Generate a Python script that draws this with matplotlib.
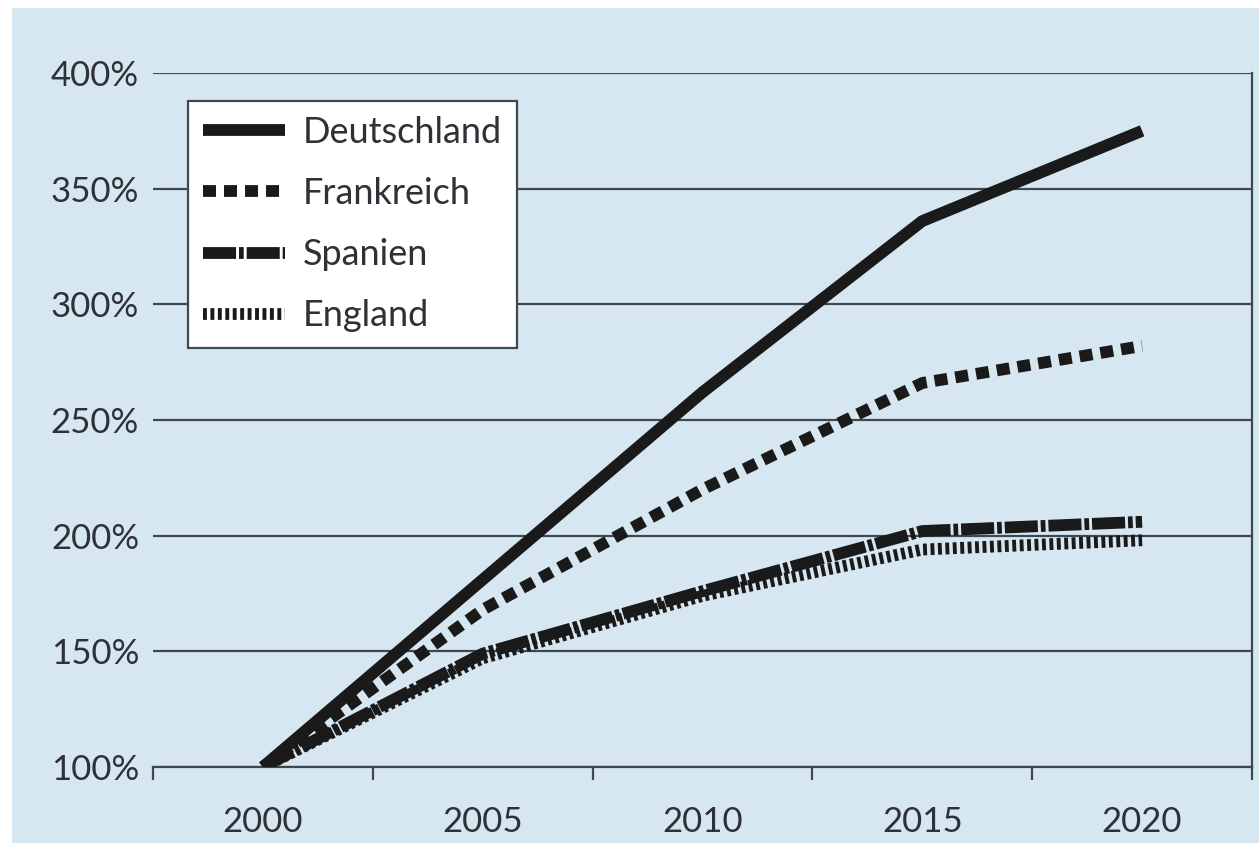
import matplotlib
matplotlib.use("Agg")
import matplotlib.pyplot as plt
from matplotlib.patches import Rectangle
from matplotlib.ticker import FixedLocator, FuncFormatter

years = ["2000", "2005", "2010", "2015", "2020"]
deutschland = [100, 181, 262, 336, 375]
frankreich = [100, 168, 220, 266, 282]
spanien = [100, 149, 176, 202, 206]
england = [100, 147, 174, 194, 198]
y_ticks = [100, 150, 200, 250, 300, 350, 400]

BG = "#d7e7f2"
INK = "#1a1a1a"
GRID = "#3d4850"
TEXT = "#2e3236"

plt.rcParams['font.family'] = ['Lato', 'DejaVu Sans']

fig = plt.figure(figsize=(12.59, 8.43), dpi=100)
fig.patch.set_facecolor("white")
fig.patches.append(Rectangle((12 / 1259, 0), 1, 1 - 8 / 843, transform=fig.transFigure,
                             facecolor=BG, edgecolor="none", zorder=-10))

ax = fig.add_axes([153 / 1259, 1 - 767 / 843, (1252 - 153) / 1259, (767 - 73) / 843])
ax.set_facecolor(BG)

x = list(range(len(years)))
lw = 8.5
ax.plot(x, deutschland, color=INK, lw=lw, solid_capstyle="butt", label="Deutschland", zorder=5)
ax.plot(x, frankreich, color=INK, lw=lw, linestyle=(0, (1.1, 0.68)), dash_capstyle="butt",
        label="Frankreich", zorder=4)
ax.plot(x, england, color=INK, lw=lw, linestyle=(0, (0.33, 0.3)), dash_capstyle="butt",
        label="England_", zorder=2)
ax.plot(x, spanien, color=INK, lw=lw, linestyle=(0, (2.8, 0.25, 0.4, 0.25)), dash_capstyle="butt",
        label="Spanien", zorder=3)

ax.set_xlim(-0.5, len(years) - 0.5)
ax.set_ylim(100, 400)

# y axis: gridlines only
ax.set_yticks(y_ticks)
ax.yaxis.set_major_formatter(FuncFormatter(lambda v, p: f"{int(v)}%"))
ax.tick_params(axis="y", length=0, pad=10, labelsize=25, labelcolor=TEXT)
ax.grid(axis="y", color=GRID, lw=1.6)
ax.set_axisbelow(True)

# x axis: category axis, ticks between categories
ax.xaxis.set_major_locator(FixedLocator([i - 0.5 for i in range(len(years) + 1)]))
ax.xaxis.set_minor_locator(FixedLocator(x))
ax.set_xticklabels([])
ax.set_xticklabels(years, minor=True)
ax.tick_params(axis="x", which="major", length=9, width=1.6, color=GRID, direction="out")
ax.tick_params(axis="x", which="minor", length=0, pad=28, labelsize=25, labelcolor=TEXT)

for s in ["left", "top"]:
    ax.spines[s].set_visible(False)
for s in ["bottom", "right"]:
    ax.spines[s].set_color(GRID)
    ax.spines[s].set_linewidth(1.6)

h, l = ax.get_legend_handles_labels()
order = [0, 1, 3, 2]
leg = ax.legend([h[i] for i in order], ["Deutschland", "Frankreich", "Spanien", "England"],
                loc="upper left", bbox_to_anchor=(0.032, 0.96), borderaxespad=0,
                fontsize=26, frameon=True, fancybox=False, framealpha=1,
                handlelength=2.25, handletextpad=0.5, borderpad=0.42, labelspacing=0.78)
leg.get_frame().set_edgecolor(GRID)
leg.get_frame().set_linewidth(1.6)
for t in leg.get_texts():
    t.set_color(TEXT)

fig.savefig("out.png", dpi=100, facecolor=fig.get_facecolor())
